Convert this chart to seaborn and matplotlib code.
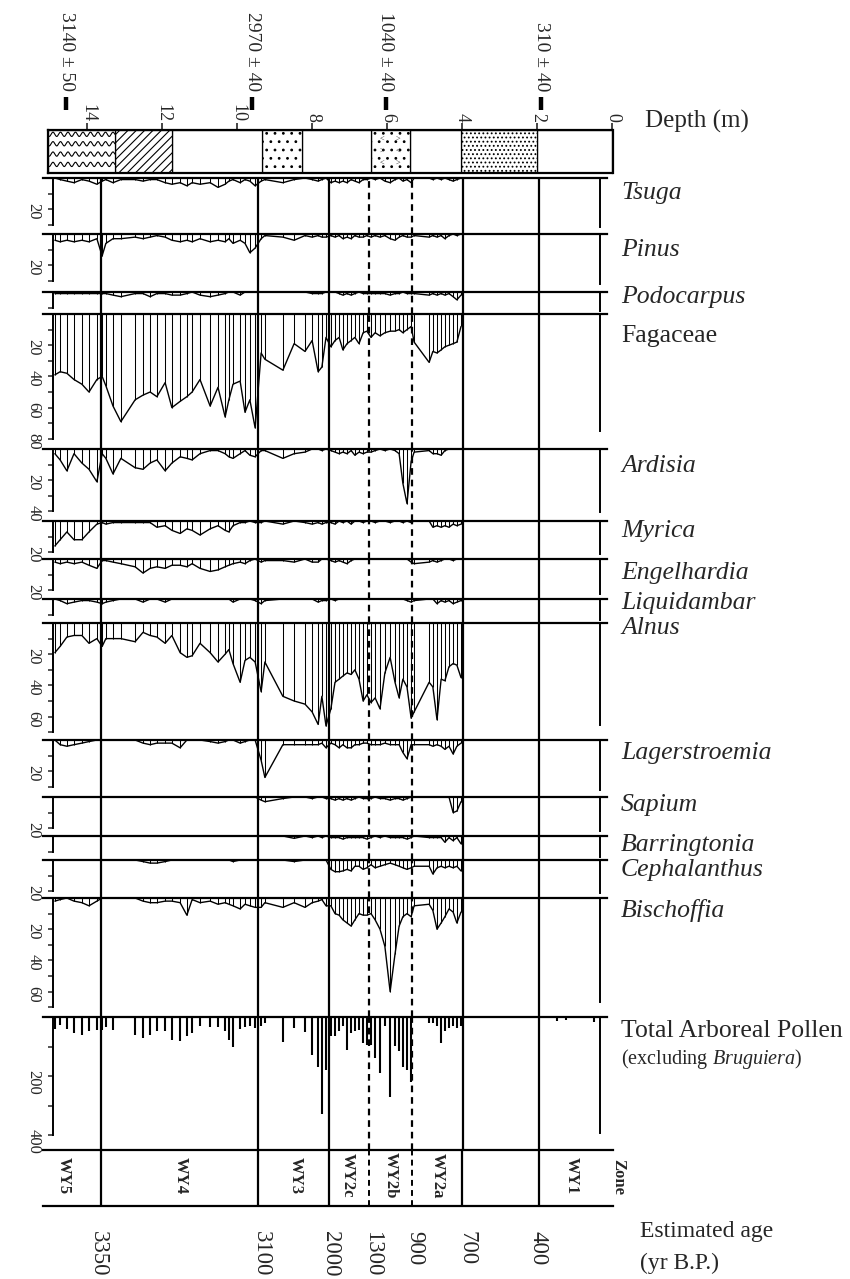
import matplotlib
matplotlib.use('Agg')
import matplotlib.pyplot as plt
import numpy as np
import seaborn as sns
from matplotlib.patches import Rectangle

sns.set_style('white')
plt.rcParams['font.family'] = ['Liberation Serif', 'DejaVu Serif']
plt.rcParams['mathtext.fontset'] = 'custom'
plt.rcParams['mathtext.rm'] = 'Liberation Serif'
plt.rcParams['mathtext.it'] = 'Liberation Serif:italic'
plt.rcParams['hatch.linewidth'] = 0.8

# ---- data ----
# sample depths (m), grouped by zone WY5, WY4, WY3, WY2c, WY2b, WY2a
DEPTH = [14.87, 14.73, 14.55, 14.36, 14.15, 13.96, 13.75,
         13.61, 13.51, 13.32, 13.11, 12.73, 12.52, 12.33, 12.15, 11.93, 11.75, 11.53, 11.35,
         11.21, 11.00, 10.73, 10.52, 10.33, 10.23, 10.12, 9.93, 9.80, 9.67, 9.53,
         9.37, 9.27, 8.79, 8.49, 8.20, 8.01, 7.85, 7.75, 7.64,
         7.51, 7.40, 7.29, 7.19, 7.08, 6.97, 6.87, 6.76, 6.65, 6.55,
         6.44, 6.33, 6.20, 6.07, 5.93, 5.80, 5.69, 5.59, 5.48, 5.37,
         5.29, 4.89, 4.79, 4.68, 4.57, 4.47, 4.36, 4.25, 4.15, 4.04]

TSUGA = [0, 1, 2, 3, 1, 2, 4,
         2, 1, 3, 1, 1, 2, 1, 1, 3, 4, 3, 5, 3, 4, 3, 6, 4, 2, 1, 3, 1, 2, 5,
         2, 1, 3, 1, 0, 1, 2, 1, 0,
         3, 2, 3, 2, 3, 1, 2, 3, 1, 1,
         0, 1, 0, 2, 3, 1, 0, 2, 1, 3,
         0, 0, 1, 0, 1, 0, 1, 2, 1, 0]
PINUS = [4, 5, 4, 5, 4, 5, 3,
         14, 6, 3, 3, 2, 3, 2, 1, 2, 4, 5, 4, 5, 3, 5, 4, 5, 3, 6, 4, 6, 12, 9,
         3, 1, 2, 4, 1, 2, 1, 2, 2,
         1, 2, 1, 3, 2, 3, 1, 2, 2, 1,
         2, 1, 2, 1, 3, 4, 2, 1, 2, 2,
         1, 2, 1, 2, 1, 3, 1, 0, 1, 0]
PODOCARPUS = [1, 1, 1, 1, 1, 1, 1,
              1, 1, 2, 3, 1, 1, 3, 1, 1, 2, 2, 1, 0, 2, 3, 2, 1, 0, 0, 2, 0, 0, 0,
              0, 0, 0, 0, 0, 1, 1, 1, 0,
              0, 0, 1, 2, 1, 2, 1, 0, 1, 1,
              1, 1, 1, 1, 2, 1, 1, 0, 1, 1,
              1, 2, 1, 2, 1, 2, 1, 3, 5, 2]
FAGACEAE = [39, 37, 38, 42, 45, 50, 42,
            40, 46, 59, 69, 55, 52, 50, 53, 44, 60, 56, 53, 50, 42, 59, 47, 66, 55, 45, 43, 63, 55, 73,
            25, 29, 36, 19, 24, 17, 37, 34, 15,
            21, 17, 15, 23, 19, 17, 15, 19, 12, 11,
            15, 12, 14, 12, 11, 11, 10, 12, 10, 8,
            18, 31, 24, 25, 23, 21, 20, 19, 18, 8]
ARDISIA = [3, 7, 14, 3, 9, 13, 21,
           3, 6, 16, 6, 12, 13, 9, 7, 14, 9, 5, 6, 7, 3, 1, 1, 3, 5, 6, 3, 1, 4, 5,
           1, 1, 6, 3, 2, 0, 0, 1, 0,
           1, 2, 3, 2, 3, 1, 4, 2, 3, 2,
           2, 1, 0, 1, 0, 1, 3, 22, 35, 8,
           2, 1, 3, 3, 4, 1, 0, 0, 0, 0]
MYRICA = [16, 12, 7, 12, 12, 7, 2,
          1, 2, 1, 1, 1, 1, 1, 4, 3, 6, 8, 5, 6, 9, 5, 3, 6, 7, 3, 1, 1, 0, 1,
          1, 0, 2, 0, 1, 2, 1, 2, 1,
          1, 2, 0, 1, 0, 2, 0, 0, 1, 0,
          0, 1, 0, 0, 1, 0, 0, 1, 0, 1,
          0, 0, 4, 3, 4, 3, 4, 2, 3, 2]
ENGELHARDIA = [2, 3, 2, 3, 2, 4, 6,
               1, 1, 2, 3, 5, 9, 6, 5, 6, 4, 4, 5, 3, 6, 8, 7, 5, 4, 3, 2, 3, 1, 0,
               2, 1, 1, 2, 0, 2, 2, 0, 0,
               1, 2, 1, 2, 3, 1, 0, 0, 0, 0,
               0, 0, 0, 0, 0, 0, 0, 0, 0, 2,
               3, 2, 1, 2, 1, 0, 0, 1, 0, 0]
LIQUIDAMBAR = [0, 1, 3, 2, 1, 1, 2,
               3, 2, 1, 0, 0, 2, 0, 0, 2, 0, 0, 0, 0, 0, 0, 0, 0, 0, 2, 0, 0, 0, 1,
               3, 1, 0, 0, 0, 0, 2, 1, 1,
               0, 1, 0, 0, 0, 0, 0, 0, 0, 0,
               0, 0, 0, 0, 0, 0, 0, 0, 1, 2,
               1, 0, 0, 3, 1, 2, 1, 3, 2, 1]
ALNUS = [19, 15, 9, 8, 8, 13, 10,
         15, 10, 10, 10, 12, 6, 8, 9, 13, 8, 19, 22, 21, 13, 19, 25, 20, 17, 26, 38, 24, 22, 25,
         44, 25, 47, 50, 52, 57, 65, 47, 66,
         55, 38, 36, 34, 32, 33, 30, 36, 50, 46,
         51, 48, 55, 32, 22, 38, 48, 36, 41, 61,
         57, 38, 41, 62, 36, 37, 28, 26, 27, 35]
LAGERSTROEMIA = [0, 3, 4, 3, 2, 1, 0,
                 0, 0, 0, 0, 0, 2, 3, 2, 2, 2, 5, 0, 0, 0, 1, 2, 1, 0, 0, 2, 1, 0, 0,
                 13, 24, 3, 3, 3, 3, 3, 2, 5,
                 2, 3, 5, 3, 5, 5, 3, 3, 2, 2,
                 3, 3, 3, 2, 3, 3, 3, 8, 12, 3,
                 3, 3, 4, 3, 4, 6, 4, 9, 4, 2]
SAPIUM = [0, 0, 0, 0, 0, 0, 0,
          0, 0, 0, 0, 0, 0, 0, 0, 0, 0, 0, 0, 0, 0, 0, 0, 0, 0, 0, 0, 0, 0, 0,
          2, 3, 1, 0, 0, 1, 0, 0, 1,
          1, 2, 1, 2, 1, 2, 1, 0, 1, 1,
          1, 0, 1, 1, 2, 1, 1, 2, 1, 0,
          0, 0, 0, 0, 0, 0, 0, 10, 9, 3]
BARRINGTONIA = [0, 0, 0, 0, 0, 0, 0,
                0, 0, 0, 0, 0, 0, 0, 0, 0, 0, 0, 0, 0, 0, 0, 0, 0, 0, 0, 0, 0, 0, 0,
                0, 0, 0, 1.5, 0, 1, 0, 1, 0,
                1, 1, 1, 2, 1, 1, 1, 1, 1, 2,
                1, 0, 1, 0, 1, 1, 1, 1, 2, 1,
                0, 1, 1, 1, 1, 4, 1, 3, 1, 5]
CEPHALANTHUS = [0, 0, 0, 0, 0, 0, 0,
                0, 0, 0, 0, 0, 1, 2, 2, 1, 0, 0, 0, 0, 0, 0, 0, 0, 0, 1, 0, 0, 0, 0,
                0, 0, 0, 1, 0, 0, 0, 0, 0,
                6, 7.5, 7.5, 7, 6, 7, 4, 4, 6, 5,
                3, 5, 4, 3, 2, 3, 4, 5, 6, 5,
                4, 4, 9, 5, 4, 5, 4, 5, 4, 7]
BISCHOFFIA = [2, 1, 0, 2, 3, 5, 2,
              0, 0, 0, 0, 0, 2, 3, 3, 2, 2, 3, 11, 1, 3, 2, 4, 3, 4, 5, 7, 4, 5, 6,
              6, 3, 6, 3, 6, 3, 2, 1, 5,
              5, 10, 11, 14, 16, 18, 14, 10, 11, 11,
              10, 14, 20, 31, 60, 36, 18, 12, 10, 12,
              5, 4, 8, 20, 16, 12, 7, 9, 16, 9]
TAP = [41, 26, 41, 54, 60, 49, 43,
       43, 34, 43, 0, 60, 71, 60, 49, 49, 77, 83, 63, 54, 29, 35, 35, 49, 77, 100, 41, 34, 32, 37,
       30, 20, 85, 37, 50, 130, 170, 330, 180,
       66, 66, 49, 32, 112, 54, 49, 43, 88, 95,
       94, 139, 190, 32, 271, 98, 115, 168, 180, 220,
       0, 20, 20, 32, 88, 49, 37, 32, 37, 32]
# the few upper (WY1) samples that only show in the total
TAP_WY1_DEPTH = [1.48, 1.24, 0.49]
TAP_WY1 = [14, 10, 18]

# lithology units (m)
LITH_TOP = [0.0, 2.0, 4.05, 5.4, 6.45, 8.28, 9.35, 11.75, 13.27]
LITH_BASE = [2.0, 4.05, 5.4, 6.45, 8.28, 9.35, 11.75, 13.27, 15.06]
LITH_KIND = ['blank', 'dense', 'blank', 'chevron', 'blank', 'sparse', 'blank', 'hatch', 'wavy']

DATE_DEPTH = [14.57, 9.6, 6.05, 1.9]
DATE_LABELS = ['3140 ± 50', '2970 ± 40', '1040 ± 40', '310 ± 40']
DEPTH_TICKS = [0, 2, 4, 6, 8, 10, 12, 14]

ZONE_SOLID = [13.65, 9.45, 7.55, 4.0, 1.95]
ZONE_DASHED = [6.5, 5.35]
ZONE_NAMES = ['WY5', 'WY4', 'WY3', 'WY2c', 'WY2b', 'WY2a', 'WY1']
ZONE_NAME_DEPTH = [14.63, 11.5, 8.45, 7.05, 5.9, 4.65, 1.08]

AGE_DEPTH = [13.72, 9.37, 7.51, 6.41, 5.27, 3.88, 1.99]
AGE_LABELS = ['3350', '3100', '2000', '1300', '900', '700', '400']

# ---- layout in pixels ----
W, H = 850, 1279
X0M, PX_PER_M = 612.5, 37.5
PCT = 1.56   # px per percent

fig = plt.figure(figsize=(W / 100, H / 100), dpi=100)


def dep(px):
    return (X0M - px) / PX_PER_M


def add_ax(x0, y0, x1, y1):
    ax = fig.add_axes([x0 / W, 1 - y1 / H, (x1 - x0) / W, (y1 - y0) / H])
    ax.set_facecolor('none')
    return ax


def px_text(x, y, s, **kw):
    fig.text(x / W, 1 - y / H, s, **kw)


# radiocarbon dates
da = add_ax(48, 0, X0M, 126)
da.set_xlim(dep(48), 0)
da.set_ylim(126, 0)
da.axis('off')
da.vlines(DATE_DEPTH, 97, 110, color='k', lw=3.2)
for d, s in zip(DATE_DEPTH, DATE_LABELS):
    da.text(d, 91, s, rotation=-90, ha='center', va='bottom', fontsize=14)

# lithology column
la = add_ax(48, 130, X0M, 173)
la.set_xlim(dep(48), 0)
la.set_ylim(0, 1)
for sp in la.spines.values():
    sp.set_linewidth(1.6)
    sp.set_color('k')
la.set_yticks([])
la.set_xticks(DEPTH_TICKS)
la.set_xticklabels([str(t) for t in DEPTH_TICKS])
la.xaxis.tick_top()
la.tick_params(axis='x', direction='out', length=5, width=1.2, pad=1,
               labelrotation=-90, labelsize=13)
hatches = {'dense': '....', 'sparse': '..', 'hatch': '////', 'blank': None,
           'chevron': '..', 'wavy': None}
for t, b, k in zip(LITH_TOP, LITH_BASE, LITH_KIND):
    la.add_patch(Rectangle((t, 0), b - t, 1, facecolor='white', edgecolor='k',
                           lw=0.9, hatch=hatches[k]))
    if k == 'wavy':
        xs = np.linspace(t, b, 400)
        for row in [0.2, 0.44, 0.68, 0.9]:
            la.plot(xs, row + 0.05 * np.sin(2 * np.pi * (xs - t) / 0.2), color='k', lw=0.8)
    if k == 'chevron':
        for j, row in enumerate([0.22, 0.5, 0.78]):
            for c, fx in enumerate([0.3, 0.7]):
                la.text(t + fx * (b - t), row, '<' if (j + c) % 2 else '>',
                        fontsize=6, ha='center', va='center')
px_text(645, 121, 'Depth (m)', fontsize=18, va='center')

# pollen panels: name, values, top px, bottom px, px per unit, ticks, labelled ticks, label y, italic
PANELS = [
    ('Tsuga', TSUGA, 178, 234, PCT, [0, 10, 20, 30], [20], 193, True),
    ('Pinus', PINUS, 234, 292, PCT, [0, 10, 20, 30], [20], 250, True),
    ('Podocarpus', PODOCARPUS, 292, 314, PCT, [0, 10], [], 297, True),
    ('Fagaceae', FAGACEAE, 314, 449, PCT, [0, 10, 20, 30, 40, 50, 60, 70, 80], [20, 40, 60, 80], 336, False),
    ('Ardisia', ARDISIA, 449, 521, PCT, [0, 10, 20, 30, 40], [20, 40], 466, True),
    ('Myrica', MYRICA, 521, 559, PCT, [0, 10, 20], [20], 531, True),
    ('Engelhardia', ENGELHARDIA, 559, 599, PCT, [0, 10, 20], [20], 573, True),
    ('Liquidambar', LIQUIDAMBAR, 599, 623, PCT, [0, 10], [], 603, True),
    ('Alnus', ALNUS, 623, 740, PCT, [0, 10, 20, 30, 40, 50, 60, 70], [20, 40, 60], 628, True),
    ('Lagerstroemia', LAGERSTROEMIA, 740, 797, PCT, [0, 10, 20, 30], [20], 753, True),
    ('Sapium', SAPIUM, 797, 836, PCT, [0, 10, 20], [20], 805, True),
    ('Barringtonia', BARRINGTONIA, 836, 860, PCT, [0, 10], [], 845, True),
    ('Cephalanthus', CEPHALANTHUS, 860, 898, PCT, [0, 10, 20], [20], 870, True),
    ('Bischoffia', BISCHOFFIA, 898, 1017, PCT, [0, 10, 20, 30, 40, 50, 60, 70], [20, 40, 60], 911, True),
    ('TAP', TAP, 1017, 1150, 0.295, [0, 100, 200, 300, 400], [200, 400], 1031, False),
]

for name, vals, top, bot, scale, ticks, lab, ly, ital in PANELS:
    ax = add_ax(43, top, 607, bot)
    ymax = (bot - top) / scale
    if name == 'TAP':
        ax.vlines(DEPTH, 0, vals, color='k', lw=1.5)
        ax.vlines(TAP_WY1_DEPTH, 0, TAP_WY1, color='k', lw=1.5)
    else:
        ax.vlines(DEPTH, 0, vals, color='k', lw=0.75)
        sns.lineplot(x=DEPTH, y=vals, ax=ax, color='k', lw=1.0, estimator=None,
                     sort=False, legend=False)
    for d in ZONE_SOLID:
        ax.axvline(d, color='k', lw=1.6)
    for d in ZONE_DASHED:
        ax.axvline(d, color='k', lw=1.6, ls=(0, (3, 2.2)))
    ax.set_xlim(dep(43), dep(607))
    ax.set_ylim(ymax, 0)
    ax.set_xlabel('')
    ax.set_ylabel('')
    ax.set_xticks([])
    ax.spines['bottom'].set_visible(False)
    ax.spines['top'].set_linewidth(1.6)
    ax.spines['left'].set_position(('data', dep(53)))
    ax.spines['left'].set_bounds(0, ticks[-1])
    ax.spines['left'].set_linewidth(1.4)
    ax.spines['right'].set_position(('data', dep(600)))
    ax.spines['right'].set_bounds(0, 0.87 * ymax)
    ax.spines['right'].set_linewidth(1.4)
    for s in ['top', 'left', 'right']:
        ax.spines[s].set_color('k')
        ax.spines[s].set_visible(True)
    ax.set_yticks(ticks)
    ax.set_yticklabels([str(t) if t in lab else '' for t in ticks])
    ax.tick_params(axis='y', left=True, right=False, direction='out', length=3.5,
                   width=1.1, pad=5, labelrotation=-90, labelsize=12)
    if name == 'TAP':
        px_text(621, ly, 'Total Arboreal Pollen', fontsize=18.5, va='center')
        px_text(621, ly + 28, r'(excluding $\it{Bruguiera}$)', fontsize=14.5, va='center')
    else:
        px_text(621, ly, name, fontsize=18.5, va='center',
                style='italic' if ital else 'normal')

# zone strip
za = add_ax(43, 1150, 613, 1206)
za.set_xlim(dep(43), dep(613))
za.set_ylim(0, 1)
za.set_xticks([])
za.set_yticks([])
for s in ['left', 'right']:
    za.spines[s].set_visible(False)
for s in ['top', 'bottom']:
    za.spines[s].set_linewidth(1.6)
    za.spines[s].set_color('k')
for d in ZONE_SOLID:
    za.axvline(d, color='k', lw=1.6)
for d in ZONE_DASHED:
    za.axvline(d, color='k', lw=1.4, ls=(0, (3, 2.2)))
for d, s in zip(ZONE_NAME_DEPTH, ZONE_NAMES):
    za.text(d, 0.55, s, rotation=-90, ha='center', va='center', fontsize=12, fontweight='bold')
px_text(618, 1177, 'Zone', rotation=-90, ha='center', va='center', fontsize=12, fontweight='bold')

# estimated ages
aa = add_ax(43, 1208, 613, 1279)
aa.set_xlim(dep(43), dep(613))
aa.set_ylim(1279, 1208)
aa.axis('off')
for d, s in zip(AGE_DEPTH, AGE_LABELS):
    aa.text(d, 1231, s, rotation=-90, ha='center', va='top', fontsize=16.5)
px_text(640, 1232, 'Estimated age', fontsize=17, va='center')
px_text(640, 1263, '(yr B.P.)', fontsize=17, va='center')

fig.savefig('out.png', dpi=100)
